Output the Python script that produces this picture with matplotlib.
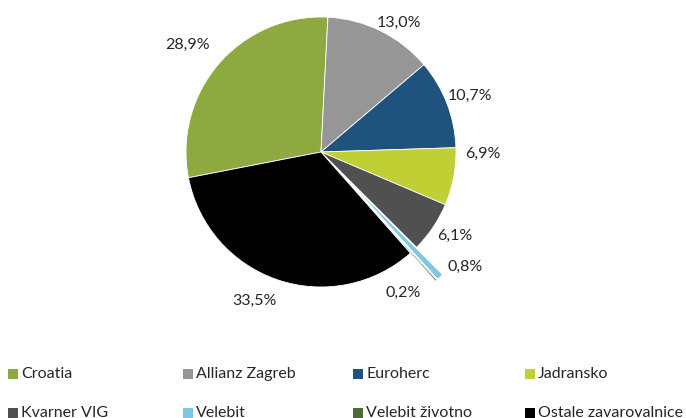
import matplotlib
matplotlib.use("Agg")
import matplotlib.pyplot as plt
from matplotlib.patches import Rectangle

plt.rcParams['font.family'] = ['Lato', 'DejaVu Sans']

categories = ["Croatia", "Allianz Zagreb", "Euroherc", "Jadransko",
              "Kvarner VIG", "Velebit", "Velebit životno", "Ostale zavarovalnice"]
shares = [28.9, 13.0, 10.7, 6.9, 6.1, 0.8, 0.2, 33.5]
labels = ["28,9%", "13,0%", "10,7%", "6,9%", "6,1%", "0,8%", "0,2%", "33,5%"]
colors = ["#8EA93F", "#969696", "#1F527C", "#C0CF34",
          "#505050", "#7EC8E3", "#4E6B35", "#000000"]
explode = [0, 0, 0, 0, 0, 0.28, 0.28, 0]

# label positions (in pie-radius units, relative to the pie centre)
label_pos = [(-0.99, 0.79), (0.58, 0.96), (1.10, 0.415), (1.20, -0.015),
             (0.99, -0.62), (1.07, -0.85), (0.61, -1.04), (-0.49, -1.10)]

W, H = 686, 418
fig = plt.figure(figsize=(W / 100, H / 100), dpi=100)

R = 135.0
cx, cy = 321.0, 152.0
a = 1.6
side = 2 * a * R
ax = fig.add_axes([(cx - side / 2) / W, (H - cy - side / 2) / H, side / W, side / H])

ax.pie(shares, colors=colors, explode=explode, startangle=191, counterclock=False,
       radius=1.0, wedgeprops=dict(edgecolor='white', linewidth=0.6),
       normalize=True)
ax.set_xlim(-a, a)
ax.set_ylim(-a, a)
ax.set_aspect('equal')
ax.axis('off')

for lab, (x, y) in zip(labels, label_pos):
    ax.text(x, y, lab, ha='center', va='center', fontsize=11.5, color='#262626')

# legend
col_x = [8, 183, 353, 525]
row_y = [374, 413]
for i, (cat, col) in enumerate(zip(categories, colors)):
    r, c = divmod(i, 4)
    x0 = col_x[c]
    y0 = row_y[r]
    fig.add_artist(Rectangle(((x0) / W, (H - y0 - 5) / H), 10 / W, 10 / H,
                             transform=fig.transFigure, facecolor=col, edgecolor='none'))
    fig.text((x0 + 13) / W, (H - y0) / H, cat, ha='left', va='center',
             fontsize=11.5, color='#262626')

fig.savefig("out.png", dpi=100)
